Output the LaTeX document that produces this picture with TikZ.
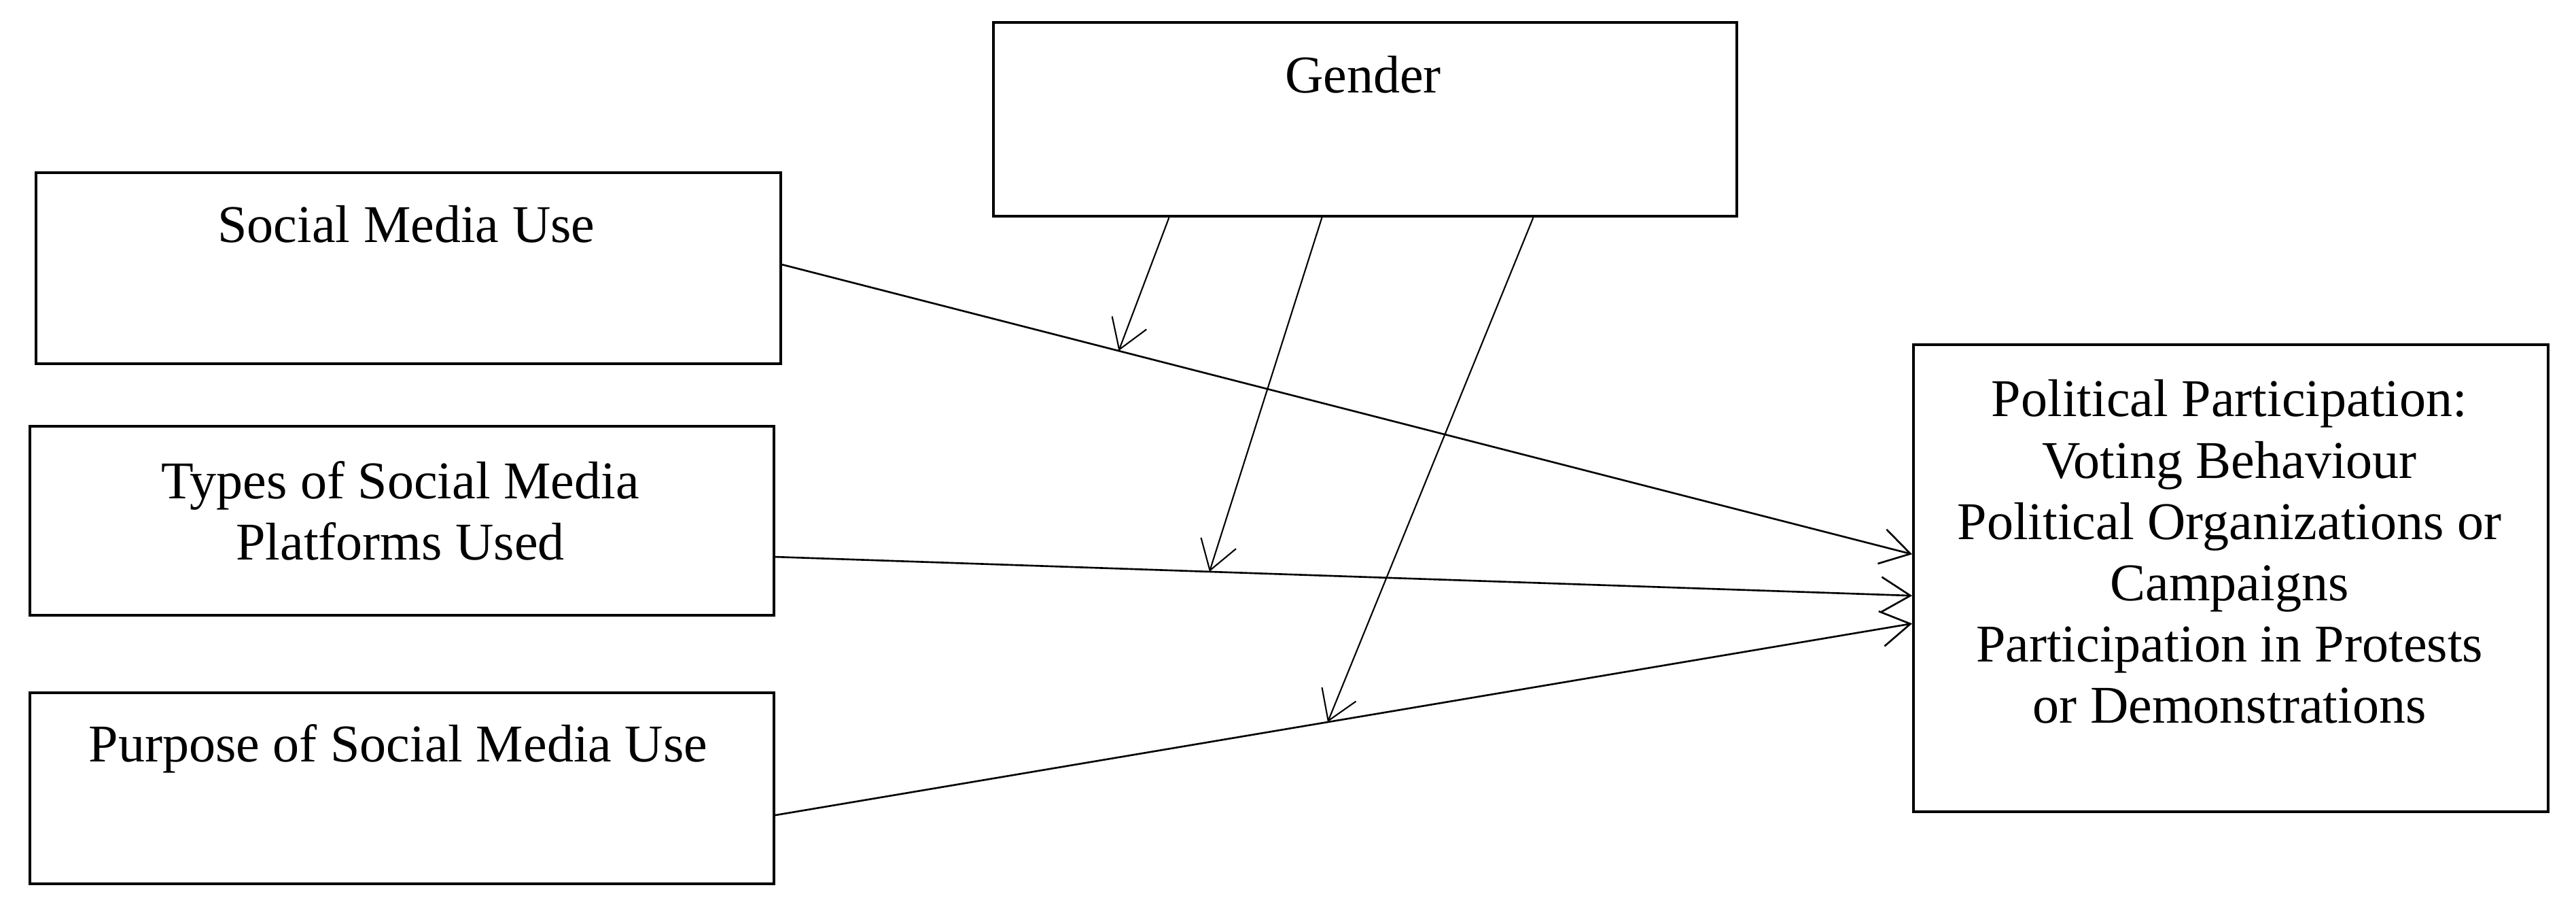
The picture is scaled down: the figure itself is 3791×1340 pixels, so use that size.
\documentclass[tikz,border=0pt]{standalone}
\usepackage{fontspec}
\setmainfont{Liberation Serif}
\usetikzlibrary{arrows.meta,calc}
\begin{document}
\begin{tikzpicture}[x=0.01cm,y=-0.01cm,
  box/.style={draw, line width=1.15pt, rectangle, inner sep=0pt, anchor=north west},
  lbl/.style={inner sep=0pt, anchor=base, font=\fontsize{22.2pt}{25.6pt}\selectfont},
  conn/.style={line width=0.75pt, -{Straight Barb[length=0.43cm,width=0.52cm]}},
  modarrow/.style={line width=0.6pt, -{Straight Barb[length=0.42cm,width=0.54cm]}}]
\useasboundingbox (0,0) rectangle (3791,1340);
% boxes
\node[box, minimum width=10.93cm, minimum height=2.85cm] (gender) at (1460,31) {};
\node[box, minimum width=10.95cm, minimum height=2.81cm] (smu) at (51,252) {};
\node[box, minimum width=10.94cm, minimum height=2.78cm] (types) at (42,625) {};
\node[box, minimum width=10.94cm, minimum height=2.81cm] (purpose) at (42,1017) {};
\node[box, minimum width=9.33cm, minimum height=6.87cm] (pol) at (2814,505) {};
% labels
\node[lbl] (gendert) at (2006,137) {Gender};
\node[lbl] (smut) at (598,357) {Social Media Use};
\node[lbl] (typest) at (589,733) {\begin{tabular}[t]{@{}c@{}}Types of Social Media\\Platforms Used\end{tabular}};
\node[lbl] (purposet) at (586,1120) {Purpose of Social Media Use};
\node[lbl] (polt) at (3281,613) {\begin{tabular}[t]{@{}c@{}}Political Participation:\\Voting Behaviour\\Political Organizations or\\Campaigns\\Participation in Protests\\or Demonstrations\end{tabular}};
% connector end points
\coordinate (s1) at ($(smu.east)+(0,-5.5)$);
\coordinate (s2) at ($(types.east)+(0,53)$);
\coordinate (s3) at ($(purpose.east)+(0,39.5)$);
\coordinate (e1) at ($(pol.west)+(0,-35.5)$);
\coordinate (e2) at ($(pol.west)+(0,25.5)$);
\coordinate (e3) at ($(pol.west)+(0,66.5)$);
% main connectors
\draw[conn] (s1) -- (e1) coordinate[pos=0.298] (m1);
\draw[conn] (s2) -- (e2) coordinate[pos=0.382] (m2);
\draw[conn] (s3) -- (e3) coordinate[pos=0.486] (m3);
% moderator arrows
\draw[modarrow] ($(gender.south)+(-288.5,0)$) -- (m1);
\draw[modarrow] ($(gender.south)+(-63.5,0)$) -- (m2);
\draw[modarrow] ($(gender.south)+(247.5,0)$) -- (m3);
\end{tikzpicture}
\end{document}
